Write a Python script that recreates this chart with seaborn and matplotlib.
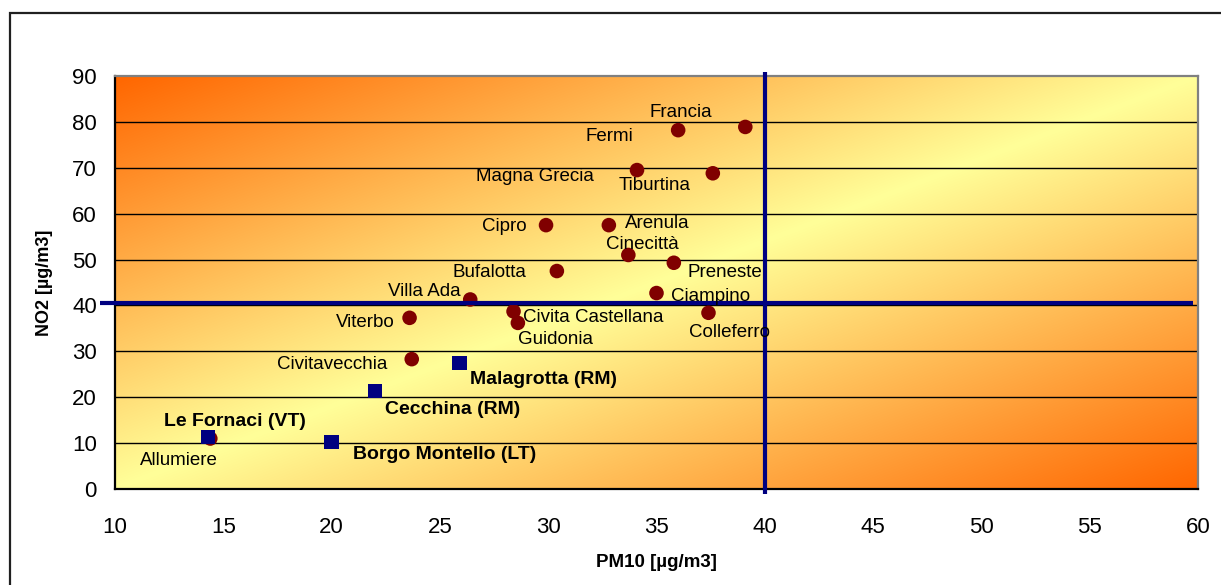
import numpy as np
import pandas as pd
import matplotlib
matplotlib.use("Agg")
import matplotlib.pyplot as plt
from matplotlib.patches import Rectangle
import seaborn as sns

# Urban / suburban monitoring stations (annual means, µg/m3)
stazioni = ["Francia", "Fermi", "Magna Grecia", "Tiburtina", "Cipro", "Arenula",
            "Cinecittà", "Preneste", "Bufalotta", "Villa Ada", "Viterbo",
            "Civita Castellana", "Guidonia", "Civitavecchia", "Allumiere",
            "Ciampino", "Colleferro"]
pm10_stazioni = [39.1, 36.0, 34.1, 37.6, 29.9, 32.8, 33.7, 35.8, 30.4, 26.4,
                 23.6, 28.4, 28.6, 23.7, 14.4, 35.0, 37.4]
no2_stazioni = [78.9, 78.2, 69.5, 68.8, 57.5, 57.5, 51.0, 49.3, 47.5, 41.3,
                37.3, 38.7, 36.2, 28.3, 11.0, 42.7, 38.4]

# Sites near waste facilities
siti = ["Malagrotta (RM)", "Cecchina (RM)", "Le Fornaci (VT)", "Borgo Montello (LT)"]
pm10_siti = [25.9, 22.0, 14.3, 20.0]
no2_siti = [27.5, 21.4, 11.3, 10.2]

# Limit values drawn as reference lines
limite_pm10 = 40
limite_no2 = 40.6

x_ticks = list(range(10, 61, 5))
y_ticks = list(range(0, 91, 10))

df = pd.DataFrame({
    "nome": stazioni + siti,
    "PM10": pm10_stazioni + pm10_siti,
    "NO2": no2_stazioni + no2_siti,
    "tipo": ["stazione"] * len(stazioni) + ["sito"] * len(siti),
})

# label placement: (dx, dy) offset in pixels of the text baseline centre from the point
offsets = {
    "Francia": (-64, 10), "Fermi": (-69, -11), "Magna Grecia": (-102, -11),
    "Tiburtina": (-58, -17), "Cipro": (-42, -6), "Arenula": (48, -3),
    "Cinecittà": (14, 6), "Preneste": (51, -14), "Bufalotta": (-67, -6),
    "Villa Ada": (-46, 3), "Viterbo": (-44, -9), "Civita Castellana": (80, -11),
    "Guidonia": (38, -21), "Civitavecchia": (-80, -10), "Allumiere": (-31, -26),
    "Ciampino": (54, -8), "Colleferro": (21, -24),
    "Malagrotta (RM)": (84, -21), "Cecchina (RM)": (78, -23),
    "Le Fornaci (VT)": (27, 11), "Borgo Montello (LT)": (113, -17),
}

sns.set_style("white")
plt.rcParams["font.family"] = ["Liberation Sans", "DejaVu Sans"]
plt.rcParams.update({"text.color": "black", "axes.labelcolor": "black",
                     "xtick.color": "black", "ytick.color": "black"})

W, H = 1221, 585
fig = plt.figure(figsize=(W / 100, H / 100), dpi=100)
fig.patch.set_facecolor("white")
pos = [115 / W, (H - 489) / H, (1198 - 115) / W, (489 - 76) / H]

# diagonal two-way gradient behind the plot area
bg = fig.add_axes(pos, zorder=0)
bg.set_axis_off()
nx, ny = 600, 300
u = np.linspace(0, 1, nx)[None, :]
v = np.linspace(0, 1, ny)[:, None]
f = np.abs(u + v - 1.0)
giallo = np.array([255, 255, 153]) / 255
arancio = np.array([255, 102, 0]) / 255
img = giallo[None, None, :] + (arancio - giallo)[None, None, :] * f[:, :, None]
bg.imshow(img, extent=[0, 1, 0, 1], aspect="auto", origin="upper", interpolation="bilinear")
bg.set_xlim(0, 1)
bg.set_ylim(0, 1)

ax = fig.add_axes(pos, zorder=1)
ax.set_facecolor("none")

ax.set_xlim(10, 60)
ax.set_ylim(0, 90)
ax.set_xticks(x_ticks)
ax.set_yticks(y_ticks)
for yv in y_ticks[1:-1]:
    ax.axhline(yv, color="black", lw=1.0, zorder=1)

sns.scatterplot(data=df, x="PM10", y="NO2", hue="tipo", style="tipo",
                markers={"stazione": "o", "sito": "s"},
                palette={"stazione": "#800000", "sito": "#000080"},
                s=110, linewidth=0, legend=False, ax=ax, zorder=3)

# reference lines for the limit values
ax.plot([limite_pm10, limite_pm10], [-1, 90.8], color="#000080", lw=3,
        clip_on=False, zorder=4, solid_capstyle="butt")
ax.plot([9.3, 59.77], [limite_no2, limite_no2], color="#000080", lw=3,
        clip_on=False, zorder=4, solid_capstyle="butt")

for _, r in df.iterrows():
    dx, dy = offsets[r["nome"]]
    bold = r["tipo"] == "sito"
    ax.annotate(r["nome"], (r["PM10"], r["NO2"]), xytext=(dx, dy),
                textcoords="offset pixels", ha="center", va="baseline",
                fontsize=14 if bold else 13.5,
                fontweight="bold" if bold else "normal", color="black", zorder=5)

ax.set_xlabel("PM10 [µg/m3]", fontsize=13.5, fontweight="bold", labelpad=12)
ax.set_ylabel("NO2 [µg/m3]", fontsize=13, fontweight="bold", labelpad=14)
ax.tick_params(axis="both", direction="out", length=6, width=1.2, colors="black",
               labelsize=16)
ax.tick_params(axis="y", pad=7)
ax.tick_params(axis="x", pad=14)

for side in ["left", "bottom"]:
    ax.spines[side].set_color("black")
    ax.spines[side].set_linewidth(1.6)
for side in ["top", "right"]:
    ax.spines[side].set_color("#808080")
    ax.spines[side].set_linewidth(1.6)
    ax.spines[side].set_visible(True)

# chart area frame
fig.patches.append(Rectangle((10 / W, -0.1), 1.2, 1 - 13 / H + 0.1, transform=fig.transFigure,
                             fill=False, edgecolor="#202020", lw=1.6, zorder=10))

fig.savefig("out.png", dpi=100)
